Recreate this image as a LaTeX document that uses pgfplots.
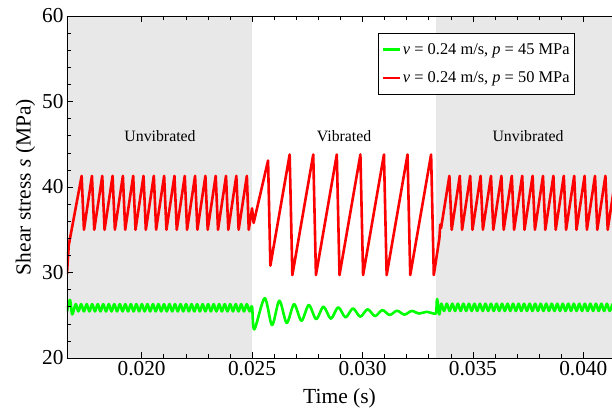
\documentclass[border=0pt]{standalone}
\usepackage{fontspec}
\setmainfont{Liberation Serif}
\usepackage{pgfplots}
\pgfplotsset{compat=1.18}
\definecolor{bggray}{RGB}{232,232,232}
\definecolor{pgreen}{RGB}{0,255,0}
\definecolor{pred}{RGB}{255,0,0}

\begin{document}
\begin{tikzpicture}
\begin{axis}[
  width=545pt, height=342pt, scale only axis,
  xmin=0.01662, xmax=0.0413, ymin=20, ymax=60,
  axis x line*=box, axis y line*=left,
  x axis line style={-}, y axis line style={-},
  axis line style={line width=0.8pt},
  tick align=inside,
  scaled x ticks=false,
  xtick={0.020,0.025,0.030,0.035,0.040},
  xticklabels={0.020,0.025,0.030,0.035,0.040},
  ytick={20,30,40,50,60},
  minor x tick num=4, minor y tick num=4,
  major tick length=6pt, minor tick length=4pt,
  tick style={black, line width=0.6pt},
  ticklabel style={font=\fontsize{21.3}{25}\selectfont},
  /pgf/number format/assume math mode=true,
  xlabel={Time (s)}, ylabel={Shear stress \textit{s} (MPa)},
  label style={font=\fontsize{21.5}{25}\selectfont},
  xlabel style={yshift=-6pt},
  legend style={at={(0.571,0.95)}, anchor=north west, draw=black, fill=white,
    font=\fontsize{16.4}{19}\selectfont, cells={anchor=west}, row sep=12pt,
    inner xsep=3pt, inner ysep=8pt},
  legend image code/.code={\draw[#1, line width=2.6pt] (0pt,0pt) -- (17pt,0pt);},
  axis on top,
]
% shaded unvibrated intervals
\fill[bggray] (axis cs:0.016,20) rectangle (axis cs:0.025,60);
\fill[bggray] (axis cs:0.033336,20) rectangle (axis cs:0.042,60);

\node[font=\fontsize{15.8}{18}\selectfont] at (axis cs:0.020833,45.9) {Unvibrated};
\node[font=\fontsize{15.8}{18}\selectfont] at (axis cs:0.029167,45.9) {Vibrated};
\node[font=\fontsize{15.8}{18}\selectfont] at (axis cs:0.0375,45.9) {Unvibrated};

% p = 45 MPa
\addplot[pgreen, line width=2.6pt, smooth, line join=round] coordinates {
(0.016617,25.4) (0.016753,26.8) (0.016857,25.1)
(0.017011,26.3) (0.017136,25.45) (0.017261,26.3) (0.017386,25.45)
(0.017511,26.3) (0.017636,25.45) (0.017761,26.3) (0.017886,25.45)
(0.018011,26.3) (0.018136,25.45) (0.018261,26.3) (0.018386,25.45)
(0.018511,26.3) (0.018636,25.45) (0.018761,26.3) (0.018886,25.45)
(0.019011,26.3) (0.019136,25.45) (0.019261,26.3) (0.019386,25.45)
(0.019511,26.3) (0.019636,25.45) (0.019761,26.3) (0.019886,25.45)
(0.020011,26.3) (0.020136,25.45) (0.020261,26.3) (0.020386,25.45)
(0.020511,26.3) (0.020636,25.45) (0.020761,26.3) (0.020886,25.45)
(0.021011,26.3) (0.021136,25.45) (0.021261,26.3) (0.021386,25.45)
(0.021511,26.3) (0.021636,25.45) (0.021761,26.3) (0.021886,25.45)
(0.022011,26.3) (0.022136,25.45) (0.022261,26.3) (0.022386,25.45)
(0.022511,26.3) (0.022636,25.45) (0.022761,26.3) (0.022886,25.45)
(0.023011,26.3) (0.023136,25.45) (0.023261,26.3) (0.023386,25.45)
(0.023511,26.3) (0.023636,25.45) (0.023761,26.3) (0.023886,25.45)
(0.024011,26.3) (0.024136,25.45) (0.024261,26.3) (0.024386,25.45)
(0.024511,26.3) (0.024636,25.45) (0.024761,26.3) (0.024886,25.45)
(0.025000,26.0) (0.025104,23.35)
(0.025571,27.0) (0.025904,23.85) (0.026237,26.7) (0.026570,24.1)
(0.026903,26.3) (0.027236,24.35) (0.027569,26.2) (0.027902,24.55)
(0.028235,26.0) (0.028568,24.6) (0.028901,25.93) (0.029234,24.75)
(0.029567,25.8) (0.029900,24.83) (0.030233,25.7) (0.030566,24.9)
(0.030899,25.6) (0.031232,25.03) (0.031565,25.53) (0.031898,25.07)
(0.032231,25.5) (0.032564,25.2) (0.032897,25.4) (0.033230,25.2)
(0.033336,25.3) (0.033380,26.9) (0.033480,25.1)
(0.033570,26.35) (0.033695,25.5) (0.033820,26.35) (0.033945,25.5)
(0.034070,26.35) (0.034195,25.5) (0.034320,26.35) (0.034445,25.5)
(0.034570,26.35) (0.034695,25.5) (0.034820,26.35) (0.034945,25.5)
(0.035070,26.35) (0.035195,25.5) (0.035320,26.35) (0.035445,25.5)
(0.035570,26.35) (0.035695,25.5) (0.035820,26.35) (0.035945,25.5)
(0.036070,26.35) (0.036195,25.5) (0.036320,26.35) (0.036445,25.5)
(0.036570,26.35) (0.036695,25.5) (0.036820,26.35) (0.036945,25.5)
(0.037070,26.35) (0.037195,25.5) (0.037320,26.35) (0.037445,25.5)
(0.037570,26.35) (0.037695,25.5) (0.037820,26.35) (0.037945,25.5)
(0.038070,26.35) (0.038195,25.5) (0.038320,26.35) (0.038445,25.5)
(0.038570,26.35) (0.038695,25.5) (0.038820,26.35) (0.038945,25.5)
(0.039070,26.35) (0.039195,25.5) (0.039320,26.35) (0.039445,25.5)
(0.039570,26.35) (0.039695,25.5) (0.039820,26.35) (0.039945,25.5)
(0.040070,26.35) (0.040195,25.5) (0.040320,26.35) (0.040445,25.5)
(0.040570,26.35) (0.040695,25.5) (0.040820,26.35) (0.040945,25.5)
(0.041070,26.35) (0.041195,25.5) (0.041320,26.35)
};
\addlegendentry{\textit{v} = 0.24 m/s, \textit{p} = 45 MPa}

% p = 50 MPa
\addplot[pred, line width=2.6pt, line join=round] coordinates {
(0.016617,29.8) (0.016700,33.2) (0.016750,33.9)
(0.017283,41.3) (0.017387,35.0) (0.017750,41.3) (0.017854,35.0)
(0.018217,41.3) (0.018321,35.0) (0.018684,41.3) (0.018788,35.0)
(0.019151,41.3) (0.019255,35.0) (0.019618,41.3) (0.019722,35.0)
(0.020085,41.3) (0.020189,35.0) (0.020552,41.3) (0.020656,35.0)
(0.021019,41.3) (0.021123,35.0) (0.021486,41.3) (0.021590,35.0)
(0.021953,41.3) (0.022057,35.0) (0.022420,41.3) (0.022524,35.0)
(0.022887,41.3) (0.022991,35.0) (0.023354,41.3) (0.023458,35.0)
(0.023821,41.3) (0.023925,35.0) (0.024288,41.3) (0.024392,35.0)
(0.024765,41.3) (0.024850,35.0)
(0.025000,37.5) (0.025072,35.8)
(0.025725,43.1) (0.025829,30.8)
(0.026703,43.8) (0.026825,29.7) (0.027771,43.8) (0.027893,29.7)
(0.028838,43.8) (0.028960,29.7) (0.029906,43.8) (0.030028,29.7)
(0.030973,43.8) (0.031095,29.7) (0.032041,43.8) (0.032163,29.7)
(0.033108,43.8) (0.033230,29.7)
(0.033483,34.0) (0.033520,35.6) (0.033560,35.2)
(0.033936,41.3) (0.034040,35.0) (0.034407,41.3) (0.034511,35.0)
(0.034878,41.3) (0.034982,35.0) (0.035349,41.3) (0.035453,35.0)
(0.035820,41.3) (0.035924,35.0) (0.036291,41.3) (0.036395,35.0)
(0.036762,41.3) (0.036866,35.0) (0.037233,41.3) (0.037337,35.0)
(0.037704,41.3) (0.037808,35.0) (0.038175,41.3) (0.038279,35.0)
(0.038646,41.3) (0.038750,35.0) (0.039117,41.3) (0.039221,35.0)
(0.039588,41.3) (0.039692,35.0) (0.040059,41.3) (0.040163,35.0)
(0.040530,41.3) (0.040634,35.0) (0.041001,41.3) (0.041105,35.0)
(0.041472,41.3)
};
\addlegendentry{\textit{v} = 0.24 m/s, \textit{p} = 50 MPa}
\end{axis}
\pgfresetboundingbox
\path[use as bounding box] (-67pt,-55pt) rectangle (545pt,358pt);
\end{tikzpicture}
\end{document}
